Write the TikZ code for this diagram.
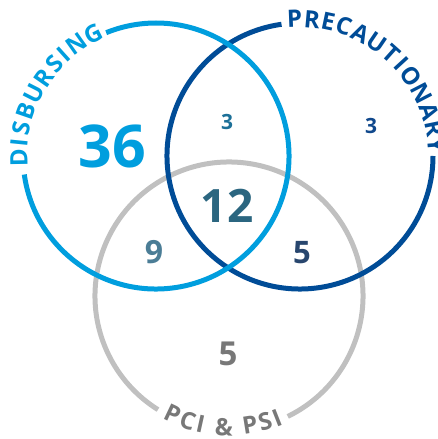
\documentclass[tikz,border=0pt]{standalone}
\usepackage{fontspec}
\setmainfont{Open Sans}
\usetikzlibrary{calc}
\definecolor{lblue}{RGB}{0,158,222}
\definecolor{dblue}{RGB}{0,76,151}
\definecolor{gring}{RGB}{192,192,192}
\definecolor{gtext}{RGB}{120,120,120}
\definecolor{ctwelve}{RGB}{43,102,128}
\definecolor{cthreeA}{RGB}{28,112,152}
\definecolor{cthreeB}{RGB}{16,72,140}
\definecolor{cnine}{RGB}{75,125,150}
\definecolor{cfive}{RGB}{40,70,110}
\tikzset{
  ring/.style={line width=5pt},
  lbl/.style={inner sep=0pt, anchor=center, font=\bfseries\fontsize{24}{24}\selectfont},
  num/.style={inner sep=0pt},
}
\begin{document}
\begin{tikzpicture}[x=1pt,y=1pt]
\useasboundingbox (0,0) rectangle (438,439);
\clip (0,0) rectangle (438,439);
\coordinate (A) at (156,283);
\coordinate (B) at (300,283);
\coordinate (C) at (229,143);
% rings
\draw[ring, gring] ($(C)+(296:134)$) arc[start angle=296, end angle=598, radius=134];
\draw[ring, dblue] ($(B)+(98:133)$) arc[start angle=98, end angle=360, radius=133];
\draw[ring, lblue] ($(A)+(188:133)$) arc[start angle=188, end angle=472, radius=133];
% ring labels
\foreach \ch/\a [count=\i] in {D/180.9, I/174.3, S/168.4, B/161.0, U/153.0, R/145.2, S/138.0, I/132.1, N/125.4, G/117.0}
  \node[lbl, text=lblue, rotate=\a-90] (la\i) at ($(A)+(\a:137)$) {\ch};
\foreach \ch/\a [count=\i] in {P/92.3, R/85.0, E/78.1, C/71.3, A/63.7, U/55.8, T/48.3, I/42.5, O/35.8, N/27.3, A/19.1, R/11.6, Y/4.5}
  \node[lbl, text=dblue, rotate=\a-90] (lb\i) at ($(B)+(\a:137)$) {\ch};
\foreach \ch/\a [count=\i] in {P/244.7, C/251.7, I/257.5, \&/267.8, P/279.2, S/286.0, I/291.5}
  \node[lbl, text=gtext, rotate=\a+90] (lc\i) at ($(C)+(\a:131)$) {\ch};
% numbers
\node[num, text=lblue, font=\bfseries\fontsize{59}{59}\selectfont] (n36) at (112,293) {36};
\node[num, text=ctwelve, font=\bfseries\fontsize{46}{46}\selectfont] (n12) at (227,233) {12};
\node[num, text=cthreeA, font=\bfseries\fontsize{21}{21}\selectfont] (n3a) at (227,317) {3};
\node[num, text=cthreeB, font=\bfseries\fontsize{21}{21}\selectfont] (n3b) at (371,313) {3};
\node[num, text=cnine, font=\bfseries\fontsize{32}{32}\selectfont] (n9) at (154,187) {9};
\node[num, text=cfive, font=\bfseries\fontsize{31}{31}\selectfont] (n5a) at (302,186) {5};
\node[num, text=gtext, font=\bfseries\fontsize{33}{33}\selectfont] (n5b) at (228,85) {5};
\end{tikzpicture}
\end{document}
